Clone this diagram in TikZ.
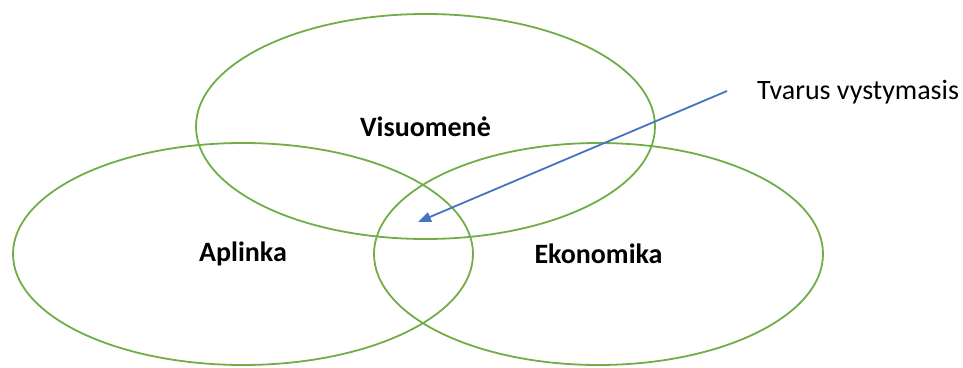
\documentclass[tikz,border=0pt]{standalone}
\usepackage{fontspec}
\setmainfont{Carlito}
\usetikzlibrary{shapes.geometric, arrows.meta}
\definecolor{vgreen}{RGB}{112,173,71}
\definecolor{vblue}{RGB}{68,114,196}

\begin{document}
\begin{tikzpicture}[
    x=1pt, y=1pt,
    every node/.style={font=\fontsize{28}{34}\selectfont},
    sphere/.style={ellipse,draw=vgreen,line width=1.8pt,inner sep=0pt,font=\fontsize{28}{34}\selectfont\bfseries},
    pointer/.style={vblue,line width=1.8pt,-{Triangle[length=13pt,width=10pt]}}
  ]
  \useasboundingbox (0,0) rectangle (963,367);

  \node[sphere,minimum width=459pt,minimum height=225pt] (visuomene) at (425.5,240.5) {Visuomenė};
  \node[sphere,minimum width=460pt,minimum height=222pt] (aplinka) at (243,113) {Aplinka};
  \node[sphere,minimum width=449pt,minimum height=222pt] (ekonomika) at (598.5,113) {Ekonomika};

  \node[anchor=base west,inner sep=0pt] (tvarus) at (757,267) {Tvarus vystymasis};
  \coordinate (start) at (727,276);
  \coordinate (tip) at (418,145);
  \draw[pointer] (start) -- (tip);

\end{tikzpicture}
\end{document}
